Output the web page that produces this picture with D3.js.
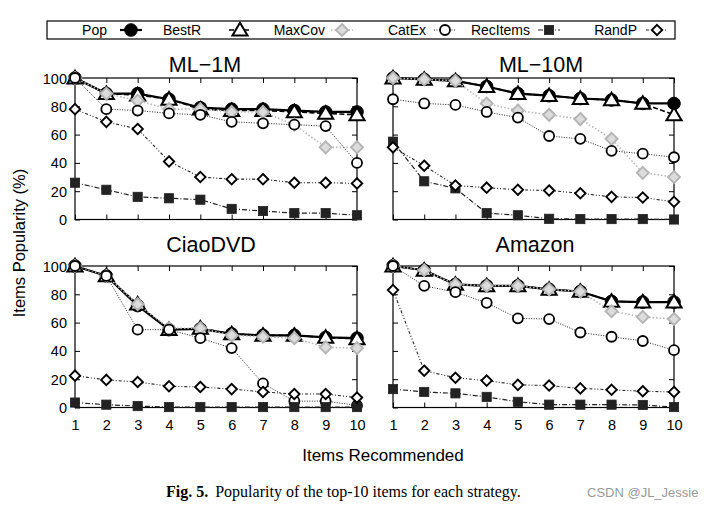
<!DOCTYPE html>
<html><head><meta charset="utf-8">
<script src="https://cdn.jsdelivr.net/npm/d3@7"></script>
<style>body{margin:0;background:#fff}svg{display:block}</style>
</head><body>
<svg id="c" width="710" height="507"></svg>
<script>
const xValues = [1,2,3,4,5,6,7,8,9,10];
const yTicks = [0,20,40,60,80,100];
const seriesNames = ["Pop","BestR","MaxCov","CatEx","RecItems","RandP"];
const datasets = ["ML\u22121M","ML\u221210M","CiaoDVD","Amazon"];

// ML-1M
const ml1m_Pop      = [100,89,89,85,79,78,78,77,76,76];
const ml1m_BestR    = [100,89,88,85,78,77,77,76,75,74];
const ml1m_MaxCov   = [100,89,84,78,78,76,76,67,51,51];
const ml1m_CatEx    = [100,78,77,75,74,69,68,67,66,40];
const ml1m_RecItems = [26,21,16,15,14,7.5,6,4.5,4.5,3];
const ml1m_RandP    = [78,69,64,41,30,28.5,28.5,26,26,25.5];
// ML-10M
const ml10m_Pop      = [100,99,98,94,89,87.5,85.5,84.5,82,82];
const ml10m_BestR    = [100,99,98,94,89,87.5,85.5,84.5,82,74];
const ml10m_MaxCov   = [100,99,98,82,77,74,71,57,33,30];
const ml10m_CatEx    = [85,82,81,76,72,59,57,48.5,46.5,44];
const ml10m_RecItems = [55,27,22,4.5,3,0.5,0.3,0.3,0.3,0];
const ml10m_RandP    = [51,38,24,22.5,21,20.5,18.5,16,15.5,12.5];
// CiaoDVD
const ciao_Pop      = [100,93,72,55,55.5,52,51,51,49.5,49];
const ciao_BestR    = [100,93,73,55,56,52,51,51,49.5,48.5];
const ciao_MaxCov   = [100,93,73,56,56,51,50,49,42.5,42];
const ciao_CatEx    = [100,93,55,55,49,42,17,4.5,4.5,1.5];
const ciao_RecItems = [3.5,2,1,0.3,0.3,0.3,0.3,0.3,0.3,0.3];
const ciao_RandP    = [22.5,19.5,18,15,14.5,13,11,9.5,9.5,7];
// Amazon
const amz_Pop      = [100,97,87,86,86,83.5,82,75,74.5,74.5];
const amz_BestR    = [100,97,87,86,86,83.5,82,75,74.5,74.5];
const amz_MaxCov   = [100,97,87,86,86,83.5,82,68,64,62.5];
const amz_CatEx    = [100,86,81.5,74,63,62.5,53,50,47,40.5];
const amz_RecItems = [13,11,10,7.5,4,2,2,2,1.8,0.3];
const amz_RandP    = [83,26,21,19,16,15.5,13.5,12.5,11.5,11];

const panelData = [
  [ml1m_Pop,ml1m_BestR,ml1m_MaxCov,ml1m_CatEx,ml1m_RecItems,ml1m_RandP],
  [ml10m_Pop,ml10m_BestR,ml10m_MaxCov,ml10m_CatEx,ml10m_RecItems,ml10m_RandP],
  [ciao_Pop,ciao_BestR,ciao_MaxCov,ciao_CatEx,ciao_RecItems,ciao_RandP],
  [amz_Pop,amz_BestR,amz_MaxCov,amz_CatEx,amz_RecItems,amz_RandP]
];

const styles = {
  Pop:      {stroke:"#000", width:2.2, dash:null, marker:"circleFill", mstroke:"#000", mfill:"#000", size:6.3},
  BestR:    {stroke:"#000", width:1.6, dash:"5,2.5", marker:"triangle", mstroke:"#000", mfill:"#fff", size:7.2},
  MaxCov:   {stroke:"#b8b8b8", width:1.6, dash:"1.5,2", marker:"diamond", mstroke:"#b4b4b4", mfill:"#dcdcdc", size:6},
  CatEx:    {stroke:"#222", width:1.0, dash:"1,1.5", marker:"circle", mstroke:"#000", mfill:"#fff", size:5},
  RecItems: {stroke:"#222", width:1.2, dash:"5,2,1,2", marker:"square", mstroke:"#222", mfill:"#222", size:4.6},
  RandP:    {stroke:"#222", width:1.1, dash:"3,2,1,2,1,2", marker:"diamond", mstroke:"#000", mfill:"#fff", size:5.2}
};

const svg = d3.select("#c");
const font = "'Liberation Sans', Arial, sans-serif";

function drawMarker(g, type, st, x, y) {
  const s = st.size;
  if (type === "circleFill" || type === "circle") {
    g.append("circle").attr("cx",x).attr("cy",y).attr("r",s)
      .attr("fill",st.mfill).attr("stroke",st.mstroke).attr("stroke-width", type==="circle"?1.8:1);
  } else if (type === "triangle") {
    g.append("path").attr("d",`M${x},${y-s} L${x+s*1.05},${y+s*0.75} L${x-s*1.05},${y+s*0.75} Z`)
      .attr("fill",st.mfill).attr("stroke",st.mstroke).attr("stroke-width",2);
  } else if (type === "diamond") {
    g.append("path").attr("d",`M${x},${y-s} L${x+s},${y} L${x},${y+s} L${x-s},${y} Z`)
      .attr("fill",st.mfill).attr("stroke",st.mstroke).attr("stroke-width",1.9);
  } else if (type === "square") {
    g.append("rect").attr("x",x-s).attr("y",y-s).attr("width",2*s).attr("height",2*s)
      .attr("fill",st.mfill).attr("stroke",st.mstroke).attr("stroke-width",0.8);
  }
}

const panels = [
  {x0:75, x1:357, y0:78, y1:219.5, tx:205, ty:72},
  {x0:393, x1:674, y0:78, y1:219.5, tx:541, ty:72},
  {x0:75, x1:357, y0:266, y1:407.5, tx:211, ty:252},
  {x0:393, x1:674, y0:266, y1:407.5, tx:535, ty:252}
];

panels.forEach((p, i) => {
  const xs = d3.scaleLinear().domain([1,10]).range([p.x0,p.x1]);
  const ys = d3.scaleLinear().domain([0,100]).range([p.y1,p.y0]);
  const g = svg.append("g");

  const tickLen = 5;
  const axB = d3.axisBottom(xs).tickValues(xValues).tickSize(-tickLen).tickSizeOuter(0)
      .tickFormat(i>=2 ? d3.format("d") : "");
  const gB = g.append("g").attr("transform",`translate(0,${p.y1})`).call(axB);
  const axT = d3.axisTop(xs).tickValues(xValues).tickSize(-tickLen).tickSizeOuter(0).tickFormat("");
  const gT = g.append("g").attr("transform",`translate(0,${p.y0})`).call(axT);
  const axL = d3.axisLeft(ys).tickValues(yTicks).tickSize(-tickLen).tickSizeOuter(0)
      .tickFormat(i%2===0 ? d3.format("d") : "");
  const gL = g.append("g").attr("transform",`translate(${p.x0},0)`).call(axL);
  const axR = d3.axisRight(ys).tickValues(yTicks).tickSize(-tickLen).tickSizeOuter(0).tickFormat("");
  const gR = g.append("g").attr("transform",`translate(${p.x1},0)`).call(axR);
  [gB,gT,gL,gR].forEach(a => {
    a.select(".domain").remove();
    a.selectAll("line").attr("stroke","#000").attr("stroke-width",1);
    a.selectAll("text").attr("font-family",font).attr("font-size",14.5).attr("fill","#000");
  });
  gB.selectAll("text").attr("dy","0").attr("y",22);
  gL.selectAll("text").attr("x",-8).attr("dy","0.35em");

  g.append("rect").attr("x",p.x0).attr("y",p.y0).attr("width",p.x1-p.x0).attr("height",p.y1-p.y0)
    .attr("fill","none").attr("stroke","#000").attr("stroke-width",1.2);

  g.append("text").attr("x",p.tx).attr("y",p.ty).attr("text-anchor","middle")
    .attr("font-family",font).attr("font-size",21.5).text(datasets[i]);

  const line = d3.line().x((d,j)=>xs(xValues[j])).y(d=>ys(d));
  seriesNames.forEach((name, k) => {
    const st = styles[name];
    const vals = panelData[i][k];
    const sg = g.append("g");
    sg.append("path").attr("d",line(vals)).attr("fill","none").attr("stroke",st.stroke)
      .attr("stroke-width",st.width).attr("stroke-dasharray",st.dash);
    vals.forEach((v,j) => drawMarker(sg, st.marker, st, xs(xValues[j]), ys(v)));
  });
});

// legend
const lg = svg.append("g");
lg.append("rect").attr("x",47).attr("y",21).attr("width",628).attr("height",18)
  .attr("fill","#fff").attr("stroke","#000").attr("stroke-width",1.2);
const legendTextEnd = [107,201,325,426,530,637];
const legendMarkX  = [131,240,342,445,549,657];
seriesNames.forEach((name,k) => {
  const st = styles[name];
  lg.append("text").attr("x",legendTextEnd[k]).attr("y",35).attr("text-anchor","end")
    .attr("font-family",font).attr("font-size",14).text(name);
  const mx = legendMarkX[k];
  lg.append("line").attr("x1",mx-11).attr("x2",mx+11).attr("y1",30).attr("y2",30)
    .attr("stroke",st.stroke).attr("stroke-width",st.width).attr("stroke-dasharray",st.dash);
  drawMarker(lg, st.marker, st, mx, 30);
});

// axis labels
svg.append("text").attr("transform","translate(25,243) rotate(-90)").attr("text-anchor","middle")
  .attr("font-family",font).attr("font-size",16.5).text("Items Popularity (%)");
svg.append("text").attr("x",383).attr("y",461).attr("text-anchor","middle")
  .attr("font-family",font).attr("font-size",17).text("Items Recommended");

// caption
const cap = svg.append("text").attr("x",166).attr("y",497).attr("font-family","'Liberation Serif', 'Times New Roman', serif")
  .attr("font-size",16);
cap.append("tspan").attr("font-weight","bold").text("Fig. 5.");
cap.append("tspan").attr("dx",7).text("Popularity of the top-10 items for each strategy.");
svg.append("text").attr("x",587).attr("y",497).attr("font-family",font).attr("font-size",13)
  .attr("fill","#999").text("CSDN @JL_Jessie");
</script>
</body></html>
